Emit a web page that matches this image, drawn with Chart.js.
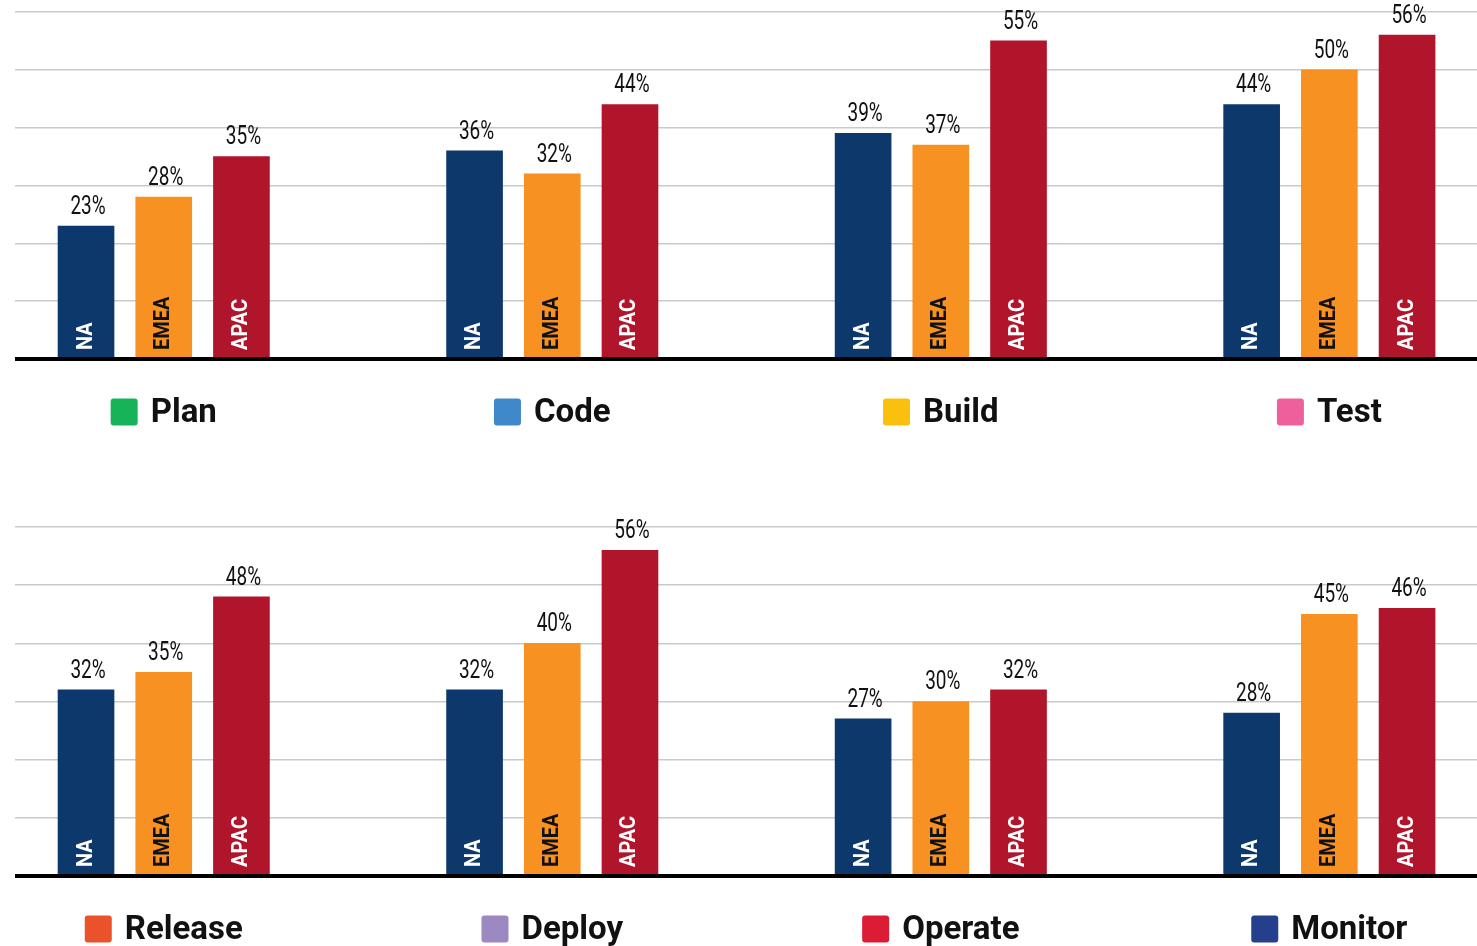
<!DOCTYPE html>
<html>
<head>
<meta charset="utf-8">
<script src="https://cdn.jsdelivr.net/npm/chart.js@4.4.0/dist/chart.umd.min.js"></script>
<style>
  html, body { margin: 0; padding: 0; background: #fff; }
  .panel { position: relative; width: 1477px; height: 473px; }
</style>
</head>
<body>
<div class="panel"><canvas id="topChart"></canvas></div>
<div class="panel"><canvas id="bottomChart"></canvas></div>
<script>
/* regional adoption by DevOps stage - two panels of grouped bars */
const regions = ['NA', 'EMEA', 'APAC'];
const regionColors = ['#0d386b', '#f79222', '#b0152b'];
const regionTextColors = ['#ffffff', '#111111', '#ffffff'];

const stagesTop = ['Plan', 'Code', 'Build', 'Test'];
const stageColorsTop = ['#16b358', '#3f88c9', '#f9c10e', '#ee609c'];
const naTop = [23, 36, 39, 44];
const emeaTop = [28, 32, 37, 50];
const apacTop = [35, 44, 55, 56];

const stagesBottom = ['Release', 'Deploy', 'Operate', 'Monitor'];
const stageColorsBottom = ['#e9522b', '#9c89c2', '#dc1c35', '#253f8f'];
const naBottom = [32, 32, 27, 28];
const emeaBottom = [35, 40, 30, 45];
const apacBottom = [48, 56, 32, 46];

const yTicks = [0, 10, 20, 30, 40, 50, 60];

// each stage takes 5 slots on the x scale: 3 bars + 2 empty
const SLOTS = 5;
const X_MIN = -0.914, X_MAX = 17.9;

// labels on and above the bars, baseline, and the stage "legend" under each group
const decorPlugin = {
  id: 'decor',
  afterDatasetsDraw(chart, args, opts) {
    const ctx = chart.ctx;
    const yScale = chart.scales.y, xScale = chart.scales.x;
    const base = yScale.getPixelForValue(0);
    ctx.save();
    chart.data.datasets.forEach((ds, di) => {
      const meta = chart.getDatasetMeta(di);
      meta.data.forEach((el, i) => {
        const v = ds.data[i].y;
        // value on top (condensed look: squeeze horizontally)
        ctx.save();
        ctx.translate(el.x + 2, el.y - 6);
        ctx.scale(0.76, 1);
        ctx.fillStyle = '#111';
        ctx.font = '25px Roboto, "Noto Sans", sans-serif';
        ctx.textAlign = 'center';
        ctx.textBaseline = 'bottom';
        ctx.fillText(v + '%', 0, 0);
        ctx.restore();
        // region name, rotated, inside the bar
        ctx.save();
        ctx.translate(el.x, base - 9);
        ctx.rotate(-Math.PI / 2);
        ctx.fillStyle = regionTextColors[di];
        ctx.font = 'bold 21px Roboto, "Noto Sans", sans-serif';
        ctx.scale(0.95, 1.05);
        ctx.textAlign = 'left';
        ctx.textBaseline = 'middle';
        ctx.fillText(regions[di], 0, 0);
        ctx.restore();
      });
    });
    // thick baseline
    ctx.fillStyle = '#000';
    ctx.fillRect(chart.chartArea.left, base - 2, chart.chartArea.right - chart.chartArea.left, 4);
    // stage labels with colored squares
    ctx.font = 'bold 33px Roboto, "Noto Sans", sans-serif';
    ctx.textBaseline = 'middle';
    ctx.textAlign = 'left';
    opts.stages.forEach((name, g) => {
      const cx = xScale.getPixelForValue(g * SLOTS + 1);
      const tw = ctx.measureText(name).width;
      const total = 27 + 13 + tw;
      const x0 = cx - total / 2;
      const cy = base + 53;
      ctx.fillStyle = opts.colors[g];
      ctx.beginPath();
      ctx.roundRect(x0, cy - 13.5, 27, 27, 3);
      ctx.fill();
      ctx.fillStyle = '#111';
      ctx.fillText(name, x0 + 40, cy + 2);
    });
    ctx.restore();
  }
};

function buildPanel(canvasId, stages, colors, series, padTop, padBottom) {
  const datasets = series.map((vals, b) => ({
    label: regions[b],
    data: vals.map((v, g) => ({ x: g * SLOTS + b, y: v })),
    backgroundColor: regionColors[b],
    borderWidth: 0,
    barThickness: 56,
    grouped: false
  }));
  return new Chart(document.getElementById(canvasId), {
    type: 'bar',
    data: { datasets },
    options: {
      responsive: true,
      maintainAspectRatio: false,
      animation: false,
      layout: { padding: { top: padTop, bottom: padBottom, left: 15, right: 0 } },
      plugins: {
        legend: { display: false },
        tooltip: { enabled: false },
        decor: { stages, colors }
      },
      scales: {
        x: {
          type: 'linear', min: X_MIN, max: X_MAX, bounds: 'data', offset: false, display: false,
          afterBuildTicks: s => { s.ticks = [{ value: X_MIN }, { value: X_MAX }]; }
        },
        y: {
          min: 0, max: 60,
          afterBuildTicks: s => { s.ticks = yTicks.map(v => ({ value: v })); },
          ticks: { display: false },
          border: { display: false },
          grid: {
            drawTicks: false,
            color: c => c.tick && c.tick.value === 0 ? 'rgba(0,0,0,0)' : '#c9c9c9',
            lineWidth: 1.5
          }
        }
      }
    },
    plugins: [decorPlugin]
  });
}

buildPanel('topChart', stagesTop, stageColorsTop, [naTop, emeaTop, apacTop], 12, 114);
buildPanel('bottomChart', stagesBottom, stageColorsBottom, [naBottom, emeaBottom, apacBottom], 54, 70);
</script>
</body>
</html>
